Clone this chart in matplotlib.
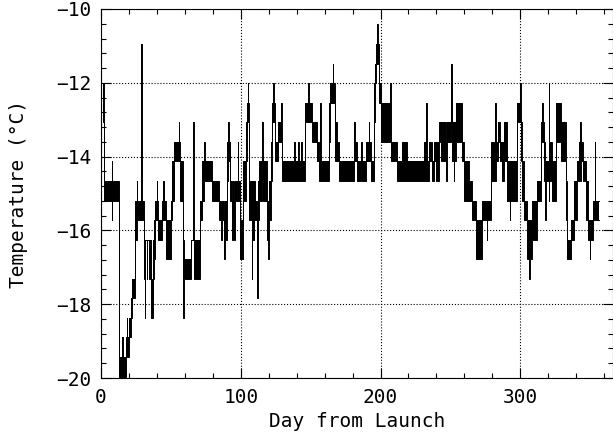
import numpy as np
import matplotlib
matplotlib.use("Agg")
import matplotlib.pyplot as plt
from matplotlib.ticker import MultipleLocator

# sensor is quantised: temperature = T_ZERO + T_STEP * count
T_ZERO = -14.66
T_STEP = 0.53

# segments: start day, lowest and highest count inside the segment
seg_day = [1.5, 2.5, 7.6, 8.0, 12.9, 15.3, 15.7, 18.0, 18.4, 18.8,
           20.3, 21.5, 22.5, 24.4, 25.6, 26.0, 28.6, 29.0, 30.6, 31.2,
           31.7, 32.6, 33.0, 34.4, 34.8, 35.6, 36.2, 36.6, 37.2, 38.0,
           38.7, 39.9, 40.3, 41.1, 43.5, 44.5, 44.9, 46.6, 50.0, 50.7,
           52.3, 55.7, 56.1, 56.6, 58.5, 59.3, 64.5, 65.8, 66.2, 71.0,
           72.2, 74.0, 74.4, 79.3, 84.1, 86.0, 86.4, 88.2, 88.6, 90.2,
           91.0, 91.5, 92.5, 93.5, 94.3, 95.2, 96.0, 97.8, 98.2, 99.6,
           101.3, 103.5, 104.4, 105.0, 105.4, 106.1, 107.8, 108.4, 109.2, 110.4,
           111.4, 112.2, 112.8, 115.4, 115.8, 117.0, 118.5, 119.8, 120.3, 121.1,
           121.5, 122.3, 123.3, 123.7, 124.7, 126.4, 128.8, 129.2, 129.5, 138.1,
           138.5, 141.2, 141.6, 143.1, 143.5, 146.2, 148.4, 148.8, 151.0, 154.6,
           156.0, 156.8, 157.2, 158.1, 162.9, 163.6, 165.8, 166.2, 167.7, 168.9,
           170.1, 180.8, 181.1, 181.5, 183.3, 185.7, 186.9, 189.3, 191.5, 191.9,
           192.9, 195.2, 196.0, 196.9, 197.6, 198.0, 198.8, 200.7, 207.0, 207.4,
           212.0, 215.6, 219.1, 231.1, 232.8, 233.2, 235.0, 236.5, 238.0, 240.0,
           241.8, 243.0, 246.6, 247.8, 250.2, 250.8, 252.4, 252.8, 253.8, 258.5,
           259.7, 263.3, 265.7, 268.1, 272.9, 276.0, 276.5, 278.8, 282.2, 282.6,
           284.0, 285.5, 287.0, 288.4, 290.8, 292.5, 292.9, 298.0, 300.1, 300.5,
           300.8, 301.6, 302.5, 305.1, 306.6, 307.0, 308.7, 312.3, 314.7, 315.6,
           316.0, 317.0, 318.0, 318.5, 320.4, 320.8, 323.0, 325.4, 329.0, 332.6,
           333.6, 336.5, 338.5, 340.9, 342.0, 343.1, 343.5, 345.0, 346.9, 348.8,
           349.6, 350.0, 351.7, 353.4, 353.8]
seg_lo = [3, -1, -2, -1, -10, -10, -10, -9, -9, -9,
          -8, -7, -6, -3, -2, -2, -2, -2, -5, -7,
          -3, -5, -3, -5, -3, -7, -5, -7, -5, -4,
          -2, -2, -2, -3, -2, -2, -2, -4, -2, -1,
          1, 1, 1, -1, -7, -5, -3, -3, -5, -2,
          -1, 0, 0, -1, -2, -3, -2, -4, -3, 0,
          1, 1, -1, -3, -2, -3, -1, -1, -1, -4,
          -1, 1, 3, 3, 3, -2, -5, -3, -2, -2,
          -6, -2, -1, 1, -1, -1, -3, -4, -2, -2,
          0, 3, 3, 3, 1, 2, 2, 2, 0, 0,
          0, 0, 0, 0, 0, 3, 3, 3, 2, 1,
          0, 0, 0, 0, 2, 4, 4, 4, 1, 1,
          0, 1, 1, 1, 0, 1, 0, 1, 1, 1,
          0, 3, 5, 6, 6, 6, 4, 2, 2, 1,
          0, 0, 0, 0, 0, 0, 1, 0, 1, 0,
          2, 1, 0, 2, 3, 1, 0, 1, 2, 1,
          -1, -1, -2, -4, -2, -3, -2, 0, 0, 1,
          2, 1, 0, 1, -1, -2, -1, 3, 3, 3,
          1, -1, -2, -4, -5, -4, -3, -1, 2, 2,
          2, 0, -2, 0, -1, 0, -1, 2, 1, -2,
          -4, -3, -2, 0, 1, 0, 1, 0, -2, -3,
          -4, -3, -2, -2, -2]
seg_hi = [5, 0, 1, 0, -9, -8, -9, -8, -7, -8,
          -7, -6, -5, -1, 0, -1, 7, -1, -3, -6,
          -3, -3, -3, -4, -3, -6, -5, -6, -3, -2,
          -1, 0, -1, -2, -1, 0, -1, -2, -1, 1,
          2, 3, 2, 1, -3, -4, -3, 3, -3, -1,
          1, 2, 1, 0, -1, -1, -1, -2, -1, 2,
          3, 2, 0, -1, 0, -1, 0, 2, 0, -2,
          1, 3, 4, 5, 4, 0, -2, 0, 0, -1,
          -3, 0, 1, 3, 1, 1, -1, -2, 0, 0,
          2, 4, 5, 4, 2, 3, 4, 3, 1, 2,
          1, 2, 1, 2, 1, 4, 5, 4, 3, 2,
          1, 4, 1, 1, 4, 5, 6, 5, 3, 2,
          1, 2, 3, 2, 1, 2, 1, 2, 3, 2,
          1, 5, 6, 7, 8, 7, 5, 4, 5, 2,
          1, 2, 1, 2, 4, 1, 2, 1, 2, 2,
          3, 3, 2, 3, 6, 3, 2, 3, 4, 2,
          1, 0, -1, -2, -1, -1, -1, 2, 4, 2,
          3, 2, 2, 3, 1, 1, 1, 4, 5, 4,
          3, 1, -1, -2, -2, -2, -1, 0, 3, 4,
          3, 2, 0, 1, 5, 2, 1, 4, 3, 0,
          -3, -2, 0, 1, 2, 3, 2, 1, 0, -2,
          -2, -2, -1, 2, -1]
DAY_END = 356.0

edges = np.append(seg_day, DAY_END)
t_lo = T_ZERO + T_STEP * np.array(seg_lo)
t_hi = T_ZERO + T_STEP * np.array(seg_hi)

fig = plt.figure(figsize=(6.13, 4.34), dpi=100)
ax = fig.add_axes([101/613, 56/434, 511.5/613, 369/434])

# densely sampled stretches show up as solid bands
ax.bar(edges[:-1], t_hi - t_lo, width=np.diff(edges), bottom=t_lo,
       align="edge", color="black", linewidth=0)
ax.step(edges, np.append(t_lo, t_lo[-1]), where="post", color="black", lw=0.7)
ax.step(edges, np.append(t_hi, t_hi[-1]), where="post", color="black", lw=0.7)

ax.set_xlim(0, 366)
ax.set_ylim(-20, -10)
ax.xaxis.set_major_locator(MultipleLocator(100))
ax.xaxis.set_minor_locator(MultipleLocator(20))
ax.yaxis.set_major_locator(MultipleLocator(2))
ax.yaxis.set_minor_locator(MultipleLocator(0.4))
ax.tick_params(which="both", direction="in", top=True, right=True,
               labelsize=14, width=0.8)
ax.tick_params(which="major", length=7, pad=7)
ax.tick_params(which="minor", length=3.5)
ax.grid(which="major", linestyle=":", color="black", lw=0.8)
for s in ax.spines.values():
    s.set_linewidth(0.8)

for lab in ax.get_xticklabels() + ax.get_yticklabels():
    lab.set_family("DejaVu Sans Mono")
ax.set_xlabel("Day from Launch", fontsize=14, family="DejaVu Sans Mono", labelpad=4)
ax.set_ylabel("Temperature (°C)", fontsize=14, family="DejaVu Sans Mono", labelpad=20)

fig.savefig("out.png", dpi=100)
